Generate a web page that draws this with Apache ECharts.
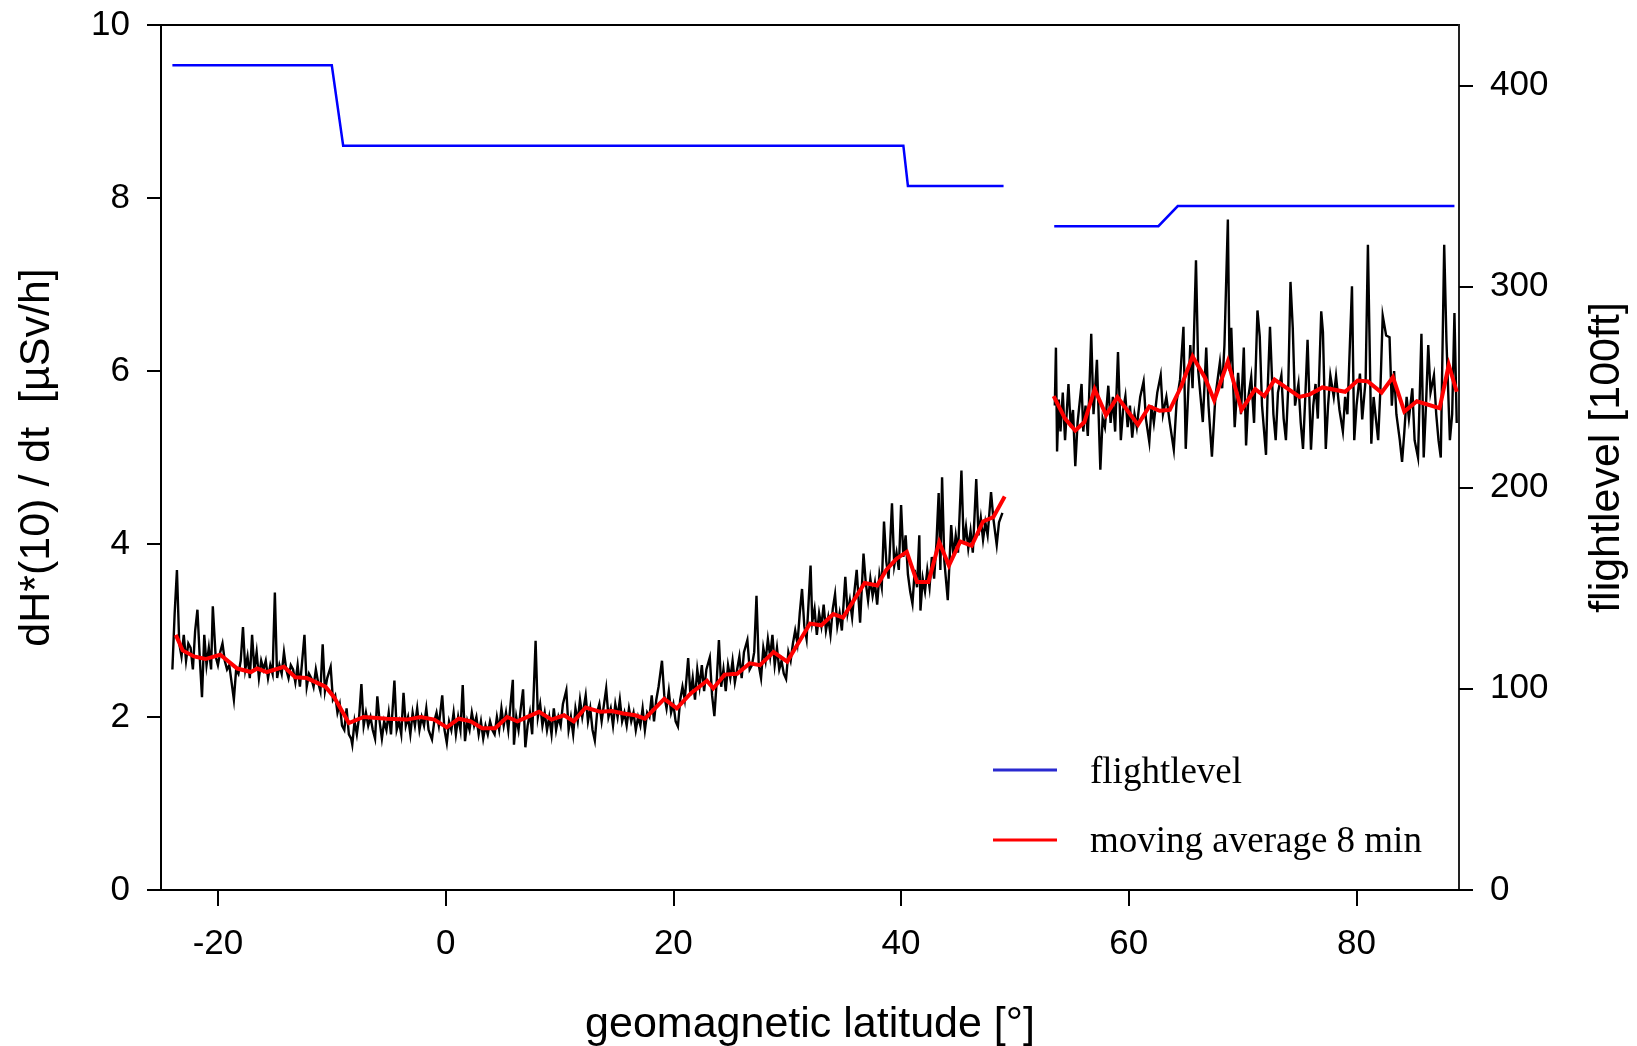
<!DOCTYPE html>
<html>
<head>
<meta charset="utf-8">
<script src="https://cdn.jsdelivr.net/npm/echarts@6/dist/echarts.min.js"></script>
<style>
html,body{margin:0;padding:0;background:#fff;}
#chart{width:1637px;height:1046px;}
</style>
</head>
<body>
<div id="chart"></div>
<script>
// ---- tick values ----
const xTicks = [-20, 0, 20, 40, 60, 80];
const yLeftTicks = [0, 2, 4, 6, 8, 10];
const yRightTicks = [0, 100, 200, 300, 400];

// ---- flight level [100 ft] vs geomagnetic latitude ----
const flightLevelA = [[-24, 410], [-10, 410], [-9, 370], [40.2, 370], [40.6, 350], [49, 350]];
const flightLevelB = [[53.45, 330], [62.6, 330], [64.3, 340], [88.6, 340]];

// ---- dose rate dH*(10)/dt [µSv/h], raw, first part ----
const doseRateA = [
[-24.0,2.55],[-23.8,3.20],[-23.6,3.70],[-23.4,2.85],[-23.2,2.70],[-23.0,2.95],[-22.8,2.65],[-22.6,2.85],[-22.4,2.80],[-22.2,2.55],
[-22.0,3.00],[-21.8,3.24],[-21.6,2.70],[-21.4,2.23],[-21.2,2.95],[-21.0,2.60],[-20.8,2.80],[-20.6,2.55],[-20.45,3.28],[-20.2,2.70],
[-20.0,2.60],[-19.8,2.75],[-19.6,2.85],[-19.4,2.65],[-19.2,2.55],[-19.0,2.60],[-18.8,2.40],[-18.6,2.20],[-18.4,2.55],[-18.2,2.50],
[-18.0,2.65],[-17.8,3.04],[-17.6,2.55],[-17.4,2.70],[-17.2,2.45],[-17.0,2.95],[-16.8,2.55],[-16.6,2.75],[-16.4,2.45],[-16.2,2.65],
[-16.0,2.55],[-15.8,2.65],[-15.6,2.45],[-15.4,2.60],[-15.2,2.50],[-15.0,3.44],[-14.8,2.45],[-14.6,2.60],[-14.4,2.50],[-14.2,2.75],
[-14.0,2.55],[-13.8,2.45],[-13.6,2.60],[-13.4,2.55],[-13.2,2.40],[-13.0,2.60],[-12.8,2.35],[-12.6,2.65],[-12.4,2.95],[-12.2,2.35],
[-12.0,2.50],[-11.8,2.45],[-11.6,2.35],[-11.4,2.55],[-11.2,2.40],[-11.0,2.30],[-10.8,2.84],[-10.6,2.30],[-10.4,2.45],[-10.1,2.58],
[-9.9,2.20],[-9.7,2.25],[-9.5,2.05],[-9.3,2.15],[-9.1,1.90],[-8.9,1.85],[-8.7,2.10],[-8.5,1.80],[-8.3,1.75],[-8.2,1.68],
[-8.0,1.95],[-7.8,1.80],[-7.6,2.00],[-7.4,2.38],[-7.2,1.90],[-7.0,2.05],[-6.8,1.90],[-6.6,2.00],[-6.4,1.85],[-6.2,1.75],
[-6.0,2.24],[-5.8,1.95],[-5.6,1.75],[-5.4,1.95],[-5.2,1.85],[-5.0,2.05],[-4.8,1.80],[-4.5,2.42],[-4.3,1.85],[-4.1,1.95],
[-3.9,1.80],[-3.7,2.28],[-3.5,1.90],[-3.3,2.00],[-3.1,1.80],[-2.9,2.05],[-2.7,1.90],[-2.5,2.10],[-2.3,1.85],[-2.1,2.00],
[-1.9,1.90],[-1.7,2.10],[-1.5,1.85],[-1.2,1.74],[-1.0,1.95],[-0.8,2.05],[-0.6,1.90],[-0.3,2.25],[-0.1,1.85],[0.1,1.70],
[0.3,1.95],[0.5,1.85],[0.7,2.05],[0.9,1.80],[1.1,2.00],[1.3,1.85],[1.5,2.37],[1.7,1.72],[1.9,1.95],[2.1,1.85],
[2.3,2.05],[2.5,1.90],[2.7,2.00],[2.9,1.80],[3.1,1.95],[3.3,1.75],[3.5,1.90],[3.7,1.80],[3.9,1.95],[4.1,1.85],
[4.3,1.80],[4.5,2.00],[4.7,1.85],[4.9,2.10],[5.1,1.90],[5.3,2.05],[5.5,1.85],[5.7,2.15],[5.9,2.43],[6.0,1.68],
[6.2,2.00],[6.4,1.85],[6.6,2.10],[6.8,2.32],[7.0,1.65],[7.2,1.90],[7.4,2.05],[7.6,1.80],[7.9,2.88],[8.1,2.00],
[8.3,2.15],[8.5,1.90],[8.7,2.05],[8.9,1.85],[9.1,2.00],[9.3,1.80],[9.5,2.10],[9.7,1.85],[9.9,2.00],[10.1,1.90],
[10.3,2.15],[10.6,2.31],[10.8,1.85],[11.0,2.00],[11.2,1.80],[11.4,2.10],[11.6,1.95],[11.8,2.20],[12.0,2.00],[12.3,2.25],
[12.5,1.95],[12.7,2.10],[12.9,1.85],[13.1,1.73],[13.3,2.05],[13.5,2.15],[13.7,1.95],[14.1,2.33],[14.3,2.00],[14.5,2.10],
[14.7,1.90],[14.9,2.15],[15.1,2.00],[15.3,2.20],[15.5,1.95],[15.7,2.05],[15.9,1.90],[16.1,2.10],[16.3,1.95],[16.5,2.05],
[16.7,1.85],[16.9,2.00],[17.1,1.90],[17.3,2.10],[17.5,1.85],[17.7,2.05],[17.9,2.00],[18.1,2.25],[18.3,1.95],[18.5,2.20],
[18.7,2.35],[19.0,2.65],[19.2,2.25],[19.4,2.10],[19.6,2.30],[19.8,2.05],[20.0,2.15],[20.2,1.95],[20.4,1.89],[20.6,2.20],
[20.8,2.35],[21.0,2.20],[21.3,2.68],[21.5,2.25],[21.7,2.45],[21.9,2.20],[22.1,2.55],[22.3,2.35],[22.5,2.60],[22.7,2.30],
[22.9,2.55],[23.2,2.69],[23.4,2.25],[23.6,2.01],[23.8,2.40],[24.0,2.89],[24.2,2.35],[24.4,2.55],[24.6,2.30],[24.8,2.60],
[25.0,2.45],[25.2,2.65],[25.4,2.40],[25.6,2.55],[25.8,2.70],[26.0,2.45],[26.2,2.75],[26.5,2.89],[26.7,2.55],[26.9,2.60],
[27.1,2.75],[27.3,3.40],[27.5,2.60],[27.7,2.45],[27.9,2.80],[28.1,2.65],[28.3,2.90],[28.5,2.70],[28.7,2.95],[28.9,2.60],
[29.1,2.80],[29.3,2.55],[29.5,2.65],[29.7,2.50],[29.9,2.44],[30.1,2.75],[30.3,2.65],[30.5,2.85],[30.7,3.00],[30.9,2.85],
[31.1,3.20],[31.3,3.48],[31.5,3.05],[31.7,2.90],[32.05,3.75],[32.2,3.10],[32.4,3.25],[32.6,2.95],[32.8,3.20],[33.0,3.05],
[33.2,3.30],[33.4,3.00],[33.6,3.15],[33.8,2.95],[34.0,3.25],[34.2,3.42],[34.4,3.05],[34.6,3.20],[34.8,3.00],[35.1,3.62],
[35.3,3.20],[35.5,3.35],[35.7,3.15],[35.9,3.45],[36.1,3.70],[36.4,3.09],[36.7,3.89],[36.9,3.55],[37.1,3.35],[37.3,3.60],
[37.5,3.40],[37.7,3.55],[37.9,3.30],[38.1,3.65],[38.3,3.50],[38.5,4.26],[38.7,3.80],[38.9,3.60],[39.2,4.47],[39.4,3.75],
[39.6,3.90],[39.8,3.70],[40.0,4.45],[40.2,3.85],[40.4,4.10],[40.6,3.65],[40.8,3.45],[41.0,3.31],[41.2,3.70],[41.4,3.50],
[41.6,4.10],[41.7,3.23],[41.9,3.60],[42.1,3.45],[42.3,3.70],[42.5,3.50],[42.7,3.85],[42.9,3.60],[43.1,4.00],[43.3,4.59],
[43.45,3.70],[43.6,4.77],[43.8,3.80],[44.1,3.35],[44.4,4.22],[44.6,3.85],[44.8,4.10],[45.0,3.90],[45.3,4.85],[45.5,4.00],
[45.7,4.20],[45.9,3.95],[46.1,4.15],[46.3,3.90],[46.6,4.75],[46.8,4.10],[47.0,4.30],[47.2,4.05],[47.4,4.25],[47.6,4.10],
[47.9,4.60],[48.1,4.30],[48.4,3.99],[48.6,4.25],[48.9,4.36]
];

// ---- dose rate, raw, second part ----
const doseRateB = [
[53.5,5.60],[53.6,6.27],[53.7,5.07],[53.85,5.67],[54.0,5.30],[54.2,5.75],[54.4,5.20],[54.7,5.85],[54.9,5.35],[55.1,5.55],
[55.3,4.90],[55.5,5.40],[55.85,5.85],[56.0,5.30],[56.2,5.60],[56.4,5.25],[56.7,6.43],[56.9,5.50],[57.2,6.13],[57.5,4.86],
[57.7,5.45],[57.9,5.35],[58.2,5.83],[58.4,5.40],[58.6,5.70],[58.8,5.30],[59.05,6.22],[59.3,5.20],[59.5,5.55],[59.7,5.71],
[59.9,5.35],[60.1,5.60],[60.3,5.23],[60.5,5.50],[60.7,5.35],[61.0,5.70],[61.3,5.88],[61.5,5.45],[61.8,5.18],[62.0,5.60],
[62.2,5.40],[62.5,5.75],[62.8,5.95],[63.0,5.50],[63.3,5.70],[63.6,5.40],[63.95,5.09],[64.2,5.65],[64.5,5.90],[64.8,6.51],
[65.0,5.10],[65.2,5.70],[65.4,6.30],[65.6,5.80],[65.9,7.28],[66.1,6.00],[66.3,5.70],[66.5,5.41],[66.8,6.27],[67.0,5.60],
[67.3,5.01],[67.6,5.70],[68.0,6.10],[68.2,5.80],[68.4,6.30],[68.7,7.75],[68.85,6.00],[69.0,6.50],[69.3,5.35],[69.6,5.98],
[69.85,5.50],[70.1,6.27],[70.3,5.14],[70.5,5.70],[70.75,5.93],[71.0,5.40],[71.3,6.70],[71.5,6.40],[71.7,5.60],[72.05,5.03],
[72.2,5.80],[72.4,6.51],[72.7,5.50],[72.9,5.20],[73.1,5.75],[73.4,5.95],[73.6,5.45],[73.8,5.20],[74.0,5.80],[74.2,7.03],
[74.4,6.50],[74.6,5.60],[74.9,5.85],[75.1,5.40],[75.3,5.10],[75.5,5.70],[75.7,6.36],[76.0,5.09],[76.2,5.60],[76.4,5.85],
[76.6,5.45],[76.9,6.69],[77.05,6.45],[77.3,5.10],[77.5,5.60],[77.7,5.95],[78.0,5.70],[78.2,5.94],[78.5,5.55],[78.8,5.30],
[79.0,5.70],[79.2,5.50],[79.6,6.98],[79.8,5.20],[80.0,5.60],[80.3,5.97],[80.5,5.44],[80.8,5.90],[81.0,7.46],[81.3,5.16],
[81.5,5.70],[81.7,5.45],[81.9,5.20],[82.1,5.80],[82.3,6.64],[82.6,6.41],[82.9,6.39],[83.1,5.60],[83.3,6.00],[83.5,5.50],
[83.8,5.20],[84.0,4.95],[84.2,5.30],[84.4,5.70],[84.6,5.45],[84.9,5.80],[85.1,5.20],[85.4,5.00],[85.7,6.43],[85.9,5.00],
[86.1,5.60],[86.3,6.30],[86.5,5.75],[86.8,5.95],[87.0,5.50],[87.2,5.20],[87.4,5.00],[87.7,7.46],[87.9,6.34],[88.2,5.20],
[88.4,5.50],[88.6,6.67],[88.8,5.40]
];

// ---- moving average 8 min ----
const movingAvgA = [
[-23.7,2.95],[-23.1,2.77],[-22.1,2.70],[-21.1,2.67],[-19.8,2.72],[-18.3,2.56],[-17.1,2.52],[-16.55,2.56],[-15.7,2.52],[-14.2,2.58],
[-13.2,2.46],[-12.2,2.45],[-10.55,2.35],[-9.8,2.23],[-8.5,1.93],[-7.2,2.00],[-5.15,1.98],[-3.4,1.97],[-2.2,2.00],[-1.0,1.97],
[0.1,1.88],[1.15,1.98],[2.2,1.95],[3.2,1.87],[4.35,1.87],[5.4,2.00],[6.3,1.95],[8.2,2.06],[9.3,1.97],[10.4,2.02],
[11.25,1.95],[12.3,2.11],[13.6,2.06],[14.6,2.07],[15.6,2.04],[16.65,2.02],[17.5,1.98],[19.2,2.21],[20.3,2.10],[21.5,2.27],
[22.95,2.42],[23.5,2.33],[24.5,2.49],[25.6,2.50],[26.7,2.62],[27.6,2.60],[28.8,2.75],[30.0,2.64],[32.0,3.08],[33.0,3.06],
[34.05,3.19],[34.9,3.15],[36.8,3.55],[37.9,3.52],[38.7,3.70],[39.6,3.83],[40.5,3.91],[41.4,3.56],[42.4,3.56],[43.35,4.02],
[44.2,3.75],[45.2,4.03],[46.2,3.98],[47.2,4.26],[48.1,4.31],[49.1,4.55]
];
const movingAvgB = [
[53.4,5.71],[54.4,5.45],[55.3,5.31],[56.1,5.41],[57.0,5.79],[58.0,5.49],[59.0,5.70],[60.8,5.38],[61.8,5.59],[62.7,5.54],
[63.6,5.55],[64.6,5.82],[65.6,6.17],[66.7,5.92],[67.5,5.66],[68.7,6.11],[69.9,5.55],[71.1,5.79],[71.9,5.71],[72.8,5.90],
[75.0,5.70],[75.9,5.73],[77.0,5.81],[79.0,5.76],[80.1,5.89],[81.0,5.88],[82.2,5.75],[83.2,5.93],[84.2,5.53],[85.3,5.65],
[87.3,5.57],[88.1,6.07],[88.8,5.76]
];

const legendItems = ['flightlevel', 'moving average 8 min'];

const chart = echarts.init(document.getElementById('chart'), null, {renderer: 'canvas'});
const SANS = 'Liberation Sans, Arial, sans-serif';
const SERIF = 'Liberation Serif, Times New Roman, serif';

const lineSeries = (data, color, width, yIdx, z) => ({
  type: 'line', data: data, xAxisIndex: 0, yAxisIndex: yIdx,
  symbol: 'none', showSymbol: false, smooth: false, silent: true,
  lineStyle: {color: color, width: width, join: 'miter'}, z: z, animation: false
});

chart.setOption({
  animation: false,
  backgroundColor: '#ffffff',
  grid: {left: 161, right: 178, top: 25, bottom: 156, containLabel: false, outerBoundsMode: 'none',
         show: true, borderColor: '#000', borderWidth: 2, backgroundColor: 'transparent'},
  xAxis: {
    type: 'value', min: -25, max: 89,
    axisLine: {show: true, onZero: false, lineStyle: {color: '#000', width: 2}},
    axisTick: {show: true, customValues: xTicks, length: 16, lineStyle: {color: '#000', width: 2}},
    axisLabel: {customValues: xTicks, fontSize: 35, color: '#000', fontFamily: SANS, margin: 37},
    splitLine: {show: false},
    name: 'geomagnetic latitude [°]', nameLocation: 'middle', nameGap: 114,
    nameTextStyle: {fontSize: 43, color: '#000', fontFamily: SANS}
  },
  yAxis: [{
    type: 'value', min: 0, max: 10, position: 'left',
    axisLine: {show: true, onZero: false, lineStyle: {color: '#000', width: 2}},
    axisTick: {show: true, customValues: yLeftTicks, length: 14, lineStyle: {color: '#000', width: 2}},
    axisLabel: {customValues: yLeftTicks, fontSize: 35, color: '#000', fontFamily: SANS, margin: 31},
    splitLine: {show: false},
    name: 'dH*(10) / dt  [µSv/h]', nameLocation: 'middle', nameGap: 102, nameRotate: 90,
    nameTextStyle: {fontSize: 43, color: '#000', fontFamily: SANS}
  }, {
    type: 'value', min: 0, max: 430, position: 'right',
    axisLine: {show: true, onZero: false, lineStyle: {color: '#222', width: 2}},
    axisTick: {show: true, customValues: yRightTicks, length: 14, lineStyle: {color: '#000', width: 2}},
    axisLabel: {customValues: yRightTicks, fontSize: 35, color: '#000', fontFamily: SANS, margin: 31},
    splitLine: {show: false},
    name: 'flightlevel [100ft]', nameLocation: 'middle', nameGap: 127, nameRotate: 90,
    nameTextStyle: {fontSize: 43, color: '#000', fontFamily: SANS}
  }],
  series: [
    lineSeries(doseRateA, '#000000', 2.4, 0, 2),
    lineSeries(doseRateB, '#000000', 2.4, 0, 2),
    lineSeries(movingAvgA, '#ff0000', 4, 0, 3),
    lineSeries(movingAvgB, '#ff0000', 4, 0, 3),
    lineSeries(flightLevelA, '#0000ff', 2.5, 1, 4),
    lineSeries(flightLevelB, '#0000ff', 2.5, 1, 4)
  ],
  graphic: [
    {type: 'line', shape: {x1: 993, y1: 770, x2: 1057, y2: 770}, style: {stroke: '#2a2ad0', lineWidth: 3}, z: 10},
    {type: 'text', x: 1090, y: 773, style: {text: legendItems[0], font: '37px ' + SERIF, fill: '#000', verticalAlign: 'middle', textAlign: 'left'}, z: 10},
    {type: 'line', shape: {x1: 993, y1: 840, x2: 1057, y2: 840}, style: {stroke: '#ff0000', lineWidth: 3}, z: 10},
    {type: 'text', x: 1090, y: 842, style: {text: legendItems[1], font: '37px ' + SERIF, fill: '#000', verticalAlign: 'middle', textAlign: 'left'}, z: 10}
  ]
});
</script>
</body>
</html>
